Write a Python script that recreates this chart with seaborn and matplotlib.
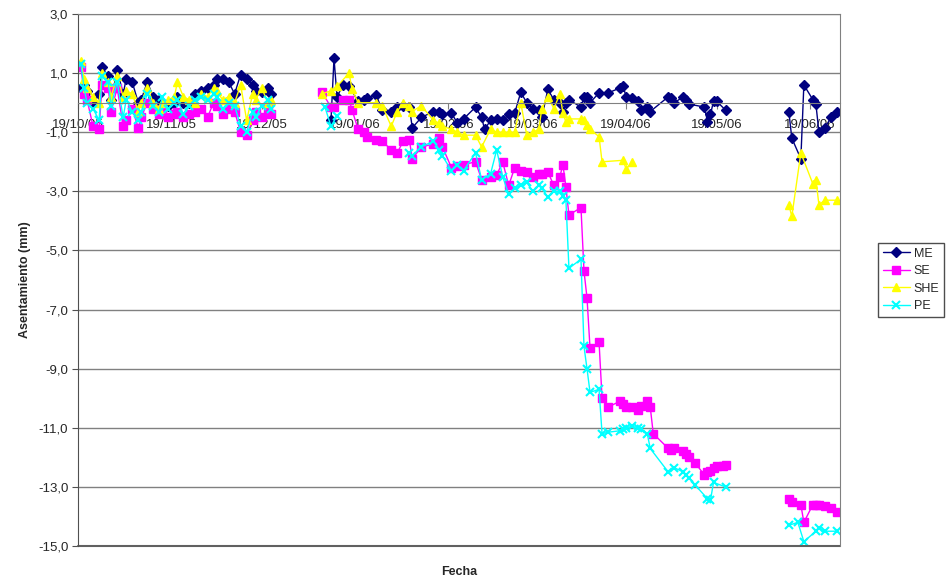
import numpy as np
import pandas as pd
import seaborn as sns
import matplotlib
matplotlib.use('agg')
import matplotlib.pyplot as plt
import matplotlib.dates as mdates
from matplotlib.lines import Line2D

nan = np.nan
inicio = pd.Timestamp('2005-10-19')
fin = pd.Timestamp('2006-06-29')

# dias desde el 19/10/05
dias = [1, 2, 3, 5, 7, 8, 10, 11, 13, 15, 16, 18, 20, 21, 23, 25, 27, 28, 30, 32,
        33, 35, 37, 39, 41, 43, 45, 46, 48, 50, 52, 54, 56, 58, 59, 61, 63, 64,
        81, 82, 84, 85, 86, 88, 90, 91, 93, 95, 96, 99, 101, 104, 106, 108, 110, 111,
        114, 118, 120, 121, 124, 126, 128, 132, 134, 135, 137, 139, 141, 143, 145, 147,
        149, 151, 153, 154, 156, 158, 160, 161, 162, 163, 167, 168, 169, 170, 173, 174,
        176, 180, 181, 182, 184, 186, 187, 189, 190, 191, 196, 197, 198, 201, 202, 203,
        205, 208, 209, 210, 211, 212, 214, 215,
        236, 237, 239, 240, 241, 244, 245, 246, 248, 250, 252]

me = [0.5, 0.6, 0.4, 0.0, 0.3, 1.2, 0.9, 0.1, 1.1, 0.3, 0.8, 0.7, 0.0, 0.1, 0.7, 0.2, 0.1, 0.0, -0.1, 0.0,
      0.2, 0.0, 0.0, 0.3, 0.4, 0.5, 0.6, 0.8, 0.8, 0.7, 0.3, 0.95, 0.8, 0.6, 0.4, 0.35, 0.5, 0.3,
      nan, nan, -0.6, 1.5, 0.2, 0.6, 0.55, nan, 0.05, 0.1, 0.15, 0.25, -0.25, -0.3, -0.15, -0.1, -0.15, -0.85,
      -0.5, -0.3, -0.3, -0.4, -0.35, -0.7, -0.55, -0.15, -0.5, -0.9, -0.6, -0.55, -0.6, -0.4, -0.35, 0.35,
      0.0, -0.2, -0.25, -0.5, 0.45, 0.1, 0.0, -0.3, 0.0, 0.1, -0.15, 0.2, 0.2, 0.0, 0.33, nan,
      0.33, 0.5, 0.55, 0.2, 0.15, 0.05, -0.25, -0.15, -0.3, nan, 0.2, 0.15, 0.0, 0.2, 0.1, -0.05,
      nan, -0.15, -0.65, -0.4, 0.05, 0.05, nan, -0.25,
      -0.3, -1.2, nan, -1.9, 0.6, 0.1, -0.05, -1.0, -0.85, -0.5, -0.3]

se = [1.2, 0.3, 0.1, -0.8, -0.9, 0.6, 0.5, -0.3, 0.5, -0.8, -0.6, -0.2, -0.85, -0.5, 0.0, -0.2, -0.4, -0.3, -0.5, -0.4,
      -0.3, -0.5, -0.4, -0.3, -0.2, -0.5, 0.0, -0.1, -0.4, -0.2, -0.3, -1.0, -1.1, -0.6, -0.3, -0.5, -0.2, -0.4,
      0.35, nan, -0.15, -0.15, nan, 0.1, 0.1, -0.25, -0.9, -1.0, -1.15, -1.25, -1.3, -1.6, -1.7, -1.3, -1.25, -1.9,
      -1.5, -1.4, -1.2, -1.5, -2.2, -2.15, -2.1, -2.0, -2.6, nan, -2.5, -2.45, -2.0, -2.8, -2.2, -2.3,
      -2.35, -2.5, -2.4, -2.4, -2.35, -2.8, -2.5, -2.1, -2.85, -3.8, -3.55, -5.7, -6.6, -8.3, -8.1, -10.0,
      -10.3, -10.1, -10.2, -10.3, -10.3, -10.4, -10.25, -10.1, -10.3, -11.2, -11.7, -11.75, -11.7, -11.8, -11.9, -12.0,
      -12.2, -12.6, -12.5, -12.45, -12.35, -12.3, -12.3, -12.25,
      -13.4, -13.5, nan, -13.6, -14.2, -13.6, -13.6, -13.6, -13.65, -13.7, -13.85]

she = [1.4, 0.8, 0.5, 0.2, 0.0, 1.0, 0.7, 0.2, 0.9, 0.2, 0.4, 0.3, -0.3, 0.0, 0.5, 0.0, -0.2, 0.0, 0.1, 0.2,
       0.7, 0.2, 0.1, 0.0, 0.3, 0.2, 0.5, 0.4, 0.1, 0.2, 0.0, 0.6, -0.6, 0.3, 0.1, 0.5, 0.0, 0.1,
       0.3, nan, 0.4, nan, 0.55, nan, 1.0, 0.45, 0.0, nan, nan, 0.0, -0.1, -0.8, -0.3, 0.0, -0.1, -0.3,
       -0.1, -0.6, -0.7, -0.8, -0.9, -1.0, -1.1, -1.1, -1.5, nan, -0.9, -1.0, -1.0, -1.0, -1.0, 0.0,
       -1.1, -1.0, -0.9, -0.2, 0.2, -0.2, 0.3, -0.35, -0.65, -0.55, -0.55, -0.6, -0.75, -0.9, -1.15, -2.0,
       nan, nan, -1.95, -2.25, -2.0, nan, nan, nan, nan, nan, nan, nan, nan, nan, nan, nan,
       nan, nan, nan, nan, nan, nan, nan, nan,
       -3.45, -3.85, nan, -1.7, nan, -2.75, -2.6, -3.45, -3.3, nan, -3.3]

pe = [1.3, 0.5, 0.0, -0.2, -0.6, 0.9, 0.7, -0.1, 0.7, -0.5, 0.1, -0.3, -0.6, -0.3, 0.3, -0.1, -0.3, 0.2, -0.2, 0.0,
      0.1, -0.4, -0.1, 0.1, 0.2, 0.1, 0.3, 0.2, -0.2, 0.0, -0.1, -0.8, -1.0, -0.3, -0.5, -0.1, 0.1, -0.2,
      nan, -0.15, -0.8, nan, -0.45, nan, nan, nan, nan, nan, nan, nan, nan, nan, nan, nan, -1.7, -1.8,
      -1.5, -1.3, -1.6, -1.8, -2.3, -2.1, -2.3, -1.7, -2.6, nan, -2.4, -1.6, -2.5, -3.1, -2.9, -2.8,
      -2.7, -3.0, -2.8, -2.9, -3.2, -3.0, -3.0, -3.15, -3.3, -5.6, -5.3, -8.25, -9.0, -9.8, -9.7, -11.2,
      -11.15, -11.1, -11.05, -11.0, -10.95, -11.0, -11.05, -11.2, -11.7, nan, -12.5, nan, -12.35, -12.5, -12.6, -12.7,
      -12.95, nan, -13.4, -13.45, -12.85, nan, nan, -13.0,
      -14.3, nan, -14.2, nan, -14.85, nan, -14.5, -14.4, -14.5, nan, -14.5]

series = ['ME', 'SE', 'SHE', 'PE']
colores = ['#000080', '#FF00FF', '#FFFF00', '#00FFFF']
marcadores = ['D', 's', '^', 'x']

df = pd.DataFrame({'dia': dias, 'ME': me, 'SE': se, 'SHE': she, 'PE': pe})
df = df.melt(id_vars='dia', var_name='serie', value_name='asentamiento').dropna()
df = df.sort_values(['serie', 'dia'])
# un tramo nuevo cuando pasan mas de 10 dias sin lectura
df['tramo'] = df.groupby('serie')['dia'].diff().gt(10).groupby(df['serie']).cumsum()
df['fecha'] = inicio + pd.to_timedelta(df['dia'], unit='D')

sns.set_style('white')
plt.rcParams['font.family'] = ['Liberation Sans', 'DejaVu Sans']

fig = plt.figure(figsize=(9.48, 5.87), dpi=100)
ax = fig.add_axes([78 / 948, 1 - 546 / 587, 762 / 948, 532 / 587])

for serie, color, marca in zip(series, colores, marcadores):
    sub = df[df['serie'] == serie]
    sns.lineplot(data=sub, x='fecha', y='asentamiento', units='tramo', estimator=None,
                 color=color, marker=marca, markersize=5.2, markeredgecolor=color,
                 markeredgewidth=1.5 if marca == 'x' else 1, linewidth=1, ax=ax)

ax.set_ylim(-15, 3)
ax.set_yticks(np.arange(-15, 4, 2))
ax.yaxis.set_major_formatter(lambda v, pos: f'{v:.1f}'.replace('.', ','))
ax.set_xlim(inicio, fin)
ax.xaxis.set_major_locator(mdates.MonthLocator(bymonthday=19))
ax.xaxis.set_major_formatter(mdates.DateFormatter('%d/%m/%y'))

ax.spines['bottom'].set_position(('data', 0))
ax.spines['bottom'].set_color('#808080')
ax.spines['left'].set_color('#505050')
ax.spines['top'].set_color('#808080')
ax.spines['right'].set_color('#808080')
ax.axhline(-15, color='#606060', lw=1.5, clip_on=False)
ax.grid(axis='y', color='#808080', lw=1)
ax.set_axisbelow(True)

ax.tick_params(axis='x', length=4, color='#808080', labelsize=9.5, pad=8, bottom=True)
ax.tick_params(axis='y', length=4, color='#505050', labelsize=9.5, pad=3, left=True)

ax.set_xlabel('Fecha', fontsize=9, fontweight='bold')
ax.xaxis.set_label_coords(0.5, -0.038)
ax.set_ylabel('Asentamiento (mm)', fontsize=9, fontweight='bold')
ax.yaxis.set_label_coords(-0.062, 0.5)

handles = [Line2D([0], [0], color=c, marker=m, markersize=5.2, markeredgecolor=c,
                  markeredgewidth=1.5 if m == 'x' else 1, linewidth=1)
           for c, m in zip(colores, marcadores)]
fig.legend(handles, series, loc='center left', bbox_to_anchor=(872 / 948, 1 - 280 / 587),
           frameon=True, fancybox=False, edgecolor='#202020', fontsize=9,
           handlelength=2.2, handletextpad=0.3, labelspacing=0.45, borderpad=0.35)

fig.savefig('out.png', dpi=100)
